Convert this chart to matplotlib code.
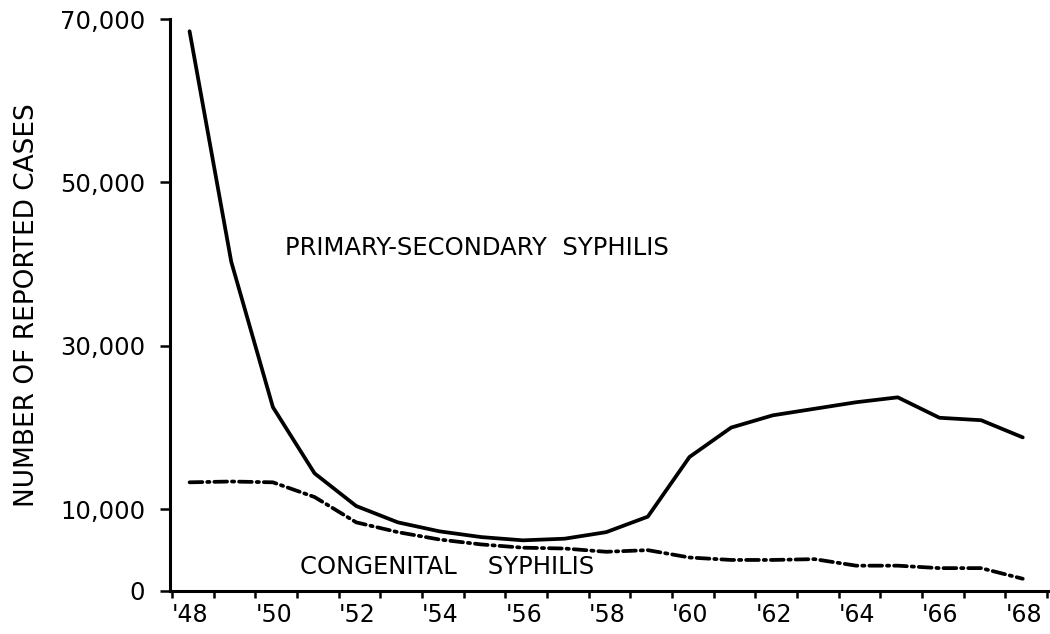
import matplotlib.pyplot as plt
import numpy as np

YEARS = np.arange(1948, 1969)

# reported cases, calendar year
PRIMARY_SECONDARY = [68500, 40300, 22500, 14400, 10400, 8400, 7300, 6600, 6200, 6400,
                     7200, 9100, 16400, 20000, 21500, 22300, 23100, 23700, 21200, 20900,
                     18800]
CONGENITAL = [13300, 13400, 13300, 11500, 8400, 7200, 6300, 5700, 5300, 5200,
              4800, 5000, 4100, 3800, 3800, 3900, 3100, 3100, 2800, 2800,
              1500]

Y_TICKS = [0, 10000, 30000, 50000, 70000]
X_LABEL_YEARS = np.arange(1948, 1969, 2)

FONT = ["DejaVu Sans"]


def main():
    plt.rcParams["font.family"] = FONT
    fig = plt.figure(figsize=(10.5, 6.34), dpi=100)
    ax = fig.add_axes([170 / 1050, 43 / 634, 879 / 1050, 572 / 634])

    # points sit near mid-year
    x = YEARS + 0.42
    ax.plot(x, PRIMARY_SECONDARY, color="black", lw=2.7,
            solid_joinstyle="round", solid_capstyle="round")
    ax.plot(x, CONGENITAL, color="black", lw=2.7,
            dashes=(3.4, 1.3, 0.6, 1.3), dash_capstyle="round")

    ax.set_xlim(1947.95, 1969.05)
    ax.set_ylim(0, 70000)

    ax.set_yticks(Y_TICKS)
    ax.set_yticklabels([f"{v:,}" for v in Y_TICKS])
    all_years = np.arange(1948, 1970)
    ax.set_xticks(all_years)
    ax.set_xticklabels([f"'{y % 100}" if y in X_LABEL_YEARS else "" for y in all_years])
    for lbl in ax.get_xticklabels():
        lbl.set_horizontalalignment("left")

    ax.tick_params(axis="y", direction="out", length=7, width=1.8,
                   labelsize=17.5, pad=11)
    ax.tick_params(axis="x", direction="out", length=5, width=1.8,
                   labelsize=17, pad=4)

    for side in ["top", "right"]:
        ax.spines[side].set_visible(False)
    for side in ["left", "bottom"]:
        ax.spines[side].set_linewidth(2.2)

    ax.set_ylabel("NUMBER OF REPORTED CASES", fontsize=19)
    ax.yaxis.set_label_coords(-0.148, 0.5)

    ax.text(1950.71, 42000, "PRIMARY-SECONDARY  SYPHILIS", fontsize=17.5,
            va="center", ha="left")
    ax.text(1951.07, 2900, "CONGENITAL    SYPHILIS", fontsize=17.5,
            va="center", ha="left")

    fig.savefig("out.png", dpi=100)
    plt.close(fig)


if __name__ == "__main__":
    main()
